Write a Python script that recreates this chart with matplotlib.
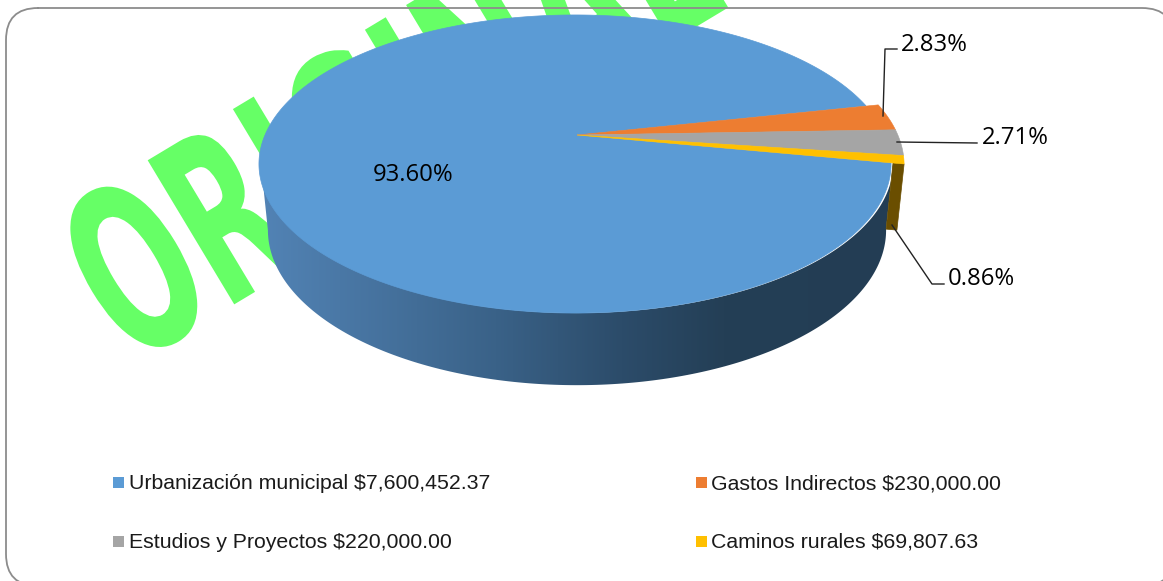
import numpy as np
import matplotlib
matplotlib.use('Agg')
import matplotlib.pyplot as plt
from matplotlib.colors import LinearSegmentedColormap
from matplotlib.patches import FancyBboxPatch, Polygon, Rectangle
from matplotlib.patheffects import AbstractPathEffect
from matplotlib.transforms import Affine2D

# datos
categorias = ['Urbanización municipal $7,600,452.37', 'Gastos Indirectos $230,000.00',
              'Estudios y Proyectos $220,000.00', 'Caminos rurales $69,807.63']
porcentajes = [93.60, 2.83, 2.71, 0.86]
etiquetas = ['93.60%', '2.83%', '2.71%', '0.86%']
colores = ['#5B9BD5', '#ED7D31', '#A5A5A5', '#FFC000']
marca_agua = 'ORIGINAL'

# geometria del pastel en perspectiva (pixeles de la imagen)
CX, CY = 577, 135
A, B, K = 310, 143.4, 0.1946
INICIO = 12.2
ESCALA_CHICAS = 1.035
ESC_X_BASE, ESC_Y_BASE, CY_BASE = 0.978, 1.04, 200


def arco(t0, t1, r=1.0, base=False, n=200):
    t = np.radians(np.linspace(t0, t1, n))
    X, Y = np.cos(t), np.sin(t)
    w = 1 + K * Y
    dx, dy = r * A * X / w, -r * B * Y / w
    if base:
        return np.column_stack([CX + ESC_X_BASE * dx, CY_BASE + ESC_Y_BASE * dy])
    return np.column_stack([CX + dx, CY + dy])


class Angosto(AbstractPathEffect):
    # comprime el texto a lo ancho, en su propio eje
    def __init__(self, sx):
        super().__init__()
        self.sx = sx

    def draw_path(self, renderer, gc, tpath, affine, rgbFace=None):
        renderer.draw_path(gc, tpath, Affine2D().scale(self.sx, 1) + affine, rgbFace)


fig = plt.figure(figsize=(11.63, 5.81), dpi=100)
ax = fig.add_axes([0, 0, 1, 1])
ax.set_xlim(0, 1163)
ax.set_ylim(581, 0)
ax.axis('off')

# marca de agua
ax.text(130, 367, marca_agua, fontsize=166, fontweight='bold', family='DejaVu Sans', color='#66FF66',
        rotation=31, rotation_mode='anchor', ha='left', va='baseline', zorder=2,
        path_effects=[Angosto(0.56)])

# marco: se pasa a polilinea porque las curvas fuera de la imagen se deforman al recortar
caja = FancyBboxPatch((6 + 32, 8 + 32), 1168 - 64, 578 - 64, boxstyle='round,pad=32,rounding_size=32')
marco = caja.get_path().to_polygons()[0]
ax.plot(marco[:, 0], marco[:, 1], color='#8C8C8C', lw=1.3, zorder=3)

# angulos de cada rebanada (sentido horario)
grados = np.array(porcentajes) / sum(porcentajes) * 360
inicio_azul = INICIO - grados[1:].sum()
fin_azul = inicio_azul - grados[0]

# pared lateral del azul con degradado
izq = 180 + np.degrees(np.arcsin(K))
der = inicio_azul + 360
pared = np.vstack([arco(izq, der), arco(izq, der, base=True)[::-1]])
cmap = LinearSegmentedColormap.from_list('pared', [(0, '#5283B5'), (0.37, '#3A6288'), (0.57, '#2C4C6A'),
                                                   (0.73, '#243F56'), (1, '#233D54')])
grad = np.linspace(0, 1, 256).reshape(1, -1)
im = ax.imshow(grad, cmap=cmap, extent=[pared[:, 0].min(), pared[:, 0].max(), 400, 130], aspect='auto', zorder=4)
pol = Polygon(pared, closed=True, fc='none', ec='none', zorder=4)
ax.add_patch(pol)
im.set_clip_path(pol)
ax.set_xlim(0, 1163)
ax.set_ylim(581, 0)

# pared de la rebanada amarilla
pared_am = np.vstack([arco(der, der, 1.0, n=1), arco(der, der, ESCALA_CHICAS, n=1),
                      arco(der, der, ESCALA_CHICAS, base=True, n=1), arco(der, der, 1.0, base=True, n=1)])
ax.add_patch(Polygon(pared_am, closed=True, fc='#6A4E00', ec='#6A4E00', lw=0.5, zorder=5))

# caras superiores
borde_azul = arco(inicio_azul, fin_azul, n=500) - [2, 0]
cara = np.vstack([[CX, CY], borde_azul])
ax.add_patch(Polygon(cara, closed=True, fc=colores[0], ec=colores[0], lw=0.5, zorder=6))
t = INICIO
for v, c in zip(grados[1:], colores[1:]):
    cara = np.vstack([[CX, CY], arco(t, t - v, ESCALA_CHICAS, n=40)])
    ax.add_patch(Polygon(cara, closed=True, fc=c, ec=c, lw=0.4, zorder=7))
    t -= v

# lineas guia
ax.plot([883, 885, 897], [116, 49, 49], color='#222222', lw=1, zorder=8)
ax.plot([897, 977], [142, 143], color='#222222', lw=1, zorder=8)
ax.plot([892, 932, 944], [225, 284, 284], color='#222222', lw=1, zorder=8)

# etiquetas de porcentaje
pos_etiquetas = [(413, 175), (934, 45), (1015, 138), (981, 279)]
for txt, (x, y) in zip(etiquetas, pos_etiquetas):
    ax.text(x, y, txt, fontsize=17.2, family='Open Sans', color='black', ha='center', va='center', zorder=9)

# leyenda
pos_leyenda = [(113, 482), (696, 482), (113, 541), (696, 541)]
for nombre, c, (x, y) in zip(categorias, colores, pos_leyenda):
    ax.add_patch(Rectangle((x, y - 5.5), 11, 11, fc=c, ec='none', zorder=9))
    ax.text(x + 16 if x < 500 else x + 15, y + 1.5, nombre, fontsize=15.3, family='Liberation Sans',
            color='#1a1a1a', ha='left', va='center', zorder=9)

plt.savefig('out.png', dpi=100)
